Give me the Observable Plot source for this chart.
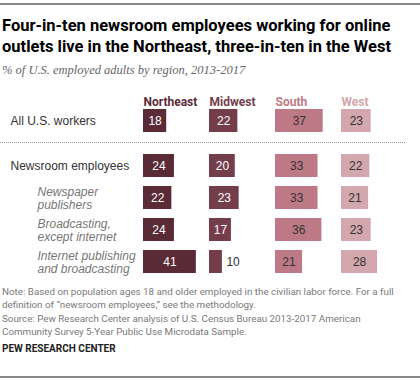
<!DOCTYPE html>
<html><head><meta charset="utf-8">
<script src="https://cdn.jsdelivr.net/npm/d3@7"></script>
<script src="https://cdn.jsdelivr.net/npm/@observablehq/plot@0.6"></script>
<style>
body{margin:0;background:#fff;}
#chart{width:420px;height:380px;position:relative;overflow:hidden;}
.topline{border-top:2px solid #8a8a8a;margin-top:3px;}
.title{font-family:Roboto,sans-serif;font-weight:bold;font-size:16.5px;line-height:21px;color:#000;margin:10px 0 0 2px;white-space:nowrap;}
.subtitle{font-family:"Liberation Serif",serif;font-style:italic;font-size:12.5px;color:#666;margin:5px 0 0 2px;line-height:16px;}
#p1{margin-top:6px;}
.dots{border-top:1px dotted #999;width:405px;margin:0;}
.note{font-family:Roboto,sans-serif;font-size:9.8px;color:#7a7a7a;line-height:13.4px;margin:3px 0 0 2px;white-space:nowrap;}
.brand{font-family:Roboto,sans-serif;font-weight:bold;font-size:10px;color:#222;margin:4px 0 0 2px;}
.bottomline{border-top:2px solid #8a8a8a;position:absolute;top:376px;left:0;width:420px;}
svg{display:block;}
</style>
</head><body>
<div id="chart">
<div class="topline"></div>
<div class="title">Four-in-ten newsroom employees working for online<br>outlets live in the Northeast, three-in-ten in the West</div>
<div class="subtitle">% of U.S. employed adults by region, 2013-2017</div>
<div id="p1"></div>
<div class="dots"></div>
<div id="p2"></div>
<div class="note">Note: Based on population ages 18 and older employed in the civilian labor force. For a full<br>definition of “newsroom employees,” see the methodology.<br>Source: Pew Research Center analysis of U.S. Census Bureau 2013-2017 American<br>Community Survey 5-Year Public Use Microdata Sample.</div>
<div class="brand">PEW RESEARCH CENTER</div>
<div class="bottomline"></div>
</div>
<script>
const regions = ["Northeast", "Midwest", "South", "West"];
const rowsTop = ["All U.S. workers"];
const rowsNews = ["Newsroom employees", "Newspaper\npublishers", "Broadcasting,\nexcept internet", "Internet publishing\nand broadcasting"];
const subRows = ["Newspaper\npublishers", "Broadcasting,\nexcept internet", "Internet publishing\nand broadcasting"];
const allRows = rowsTop.concat(rowsNews);
const northeast = [18, 24, 22, 24, 41];
const midwest = [22, 20, 23, 17, 10];
const south = [37, 33, 33, 36, 21];
const west = [23, 22, 21, 23, 28];
const regionColors = ["#5a2b37", "#743d4b", "#bd7985", "#d4a6ae"];
const darkRegions = ["Northeast", "Midwest"];

const series = [northeast, midwest, south, west];
const data = [];
allRows.forEach((row, i) => regions.forEach((region, j) => data.push({row, region, value: series[j][i]})));

const font = "Roboto, sans-serif";
const labelFont = "'Liberation Sans', Arial, sans-serif";
const inside = d => d.value >= 12;

function chart(rows, opts) {
  const rowData = data.filter(d => rows.includes(d.row));
  const marks = [
    Plot.barX(rowData, {fx: "region", x: "value", y: "row", fill: "region"}),
    Plot.text(rowData, {filter: d => inside(d) && darkRegions.includes(d.region), fx: "region", x: d => d.value / 2, y: "row", text: d => String(d.value), fill: "white", fontSize: 12, fontFamily: labelFont}),
    Plot.text(rowData, {filter: d => inside(d) && !darkRegions.includes(d.region), fx: "region", x: d => d.value / 2, y: "row", text: d => String(d.value), fill: "#333", fontSize: 12, fontFamily: labelFont}),
    Plot.text(rowData, {filter: d => !inside(d), fx: "region", x: "value", y: "row", text: d => String(d.value), fill: "#333", fontSize: 12, fontFamily: labelFont, textAnchor: "start", dx: 4}),
    Plot.text(rows.filter(r => !subRows.includes(r)), {fx: () => "Northeast", y: d => d, text: d => d, frameAnchor: "left", textAnchor: "start", dx: -133, fill: "#333", fontSize: 12, fontFamily: labelFont}),
    Plot.text(rows.filter(r => subRows.includes(r)), {fx: () => "Northeast", y: d => d, text: d => d, frameAnchor: "left", textAnchor: "start", dx: -106, fill: "#777", fontSize: 12, fontStyle: "italic", fontFamily: labelFont, lineHeight: 1.12})
  ];
  if (opts.headers) marks.push(Plot.text(regions, {fx: d => d, text: d => d, fill: d => d, frameAnchor: "top-left", textAnchor: "start", dy: -12, fontWeight: "bold", fontSize: 12, fontFamily: font}));
  return Plot.plot({
    width: 420, height: opts.height,
    marginLeft: 143, marginRight: 13, marginTop: opts.marginTop, marginBottom: opts.marginBottom,
    fx: {domain: regions, padding: 0, axis: null},
    x: {domain: [0, 51.2], axis: null},
    y: {domain: rows, padding: opts.padding, axis: null},
    color: {domain: regions, range: regionColors},
    style: {fontFamily: font, background: "white"},
    marks
  });
}

document.getElementById("p1").append(chart(rowsTop, {height: 58, marginTop: 25, marginBottom: 10, padding: 0, headers: true}));
document.getElementById("p2").append(chart(rowsNews, {height: 139, marginTop: 2, marginBottom: 0, padding: 0.28, headers: false}));
</script>
</body></html>
